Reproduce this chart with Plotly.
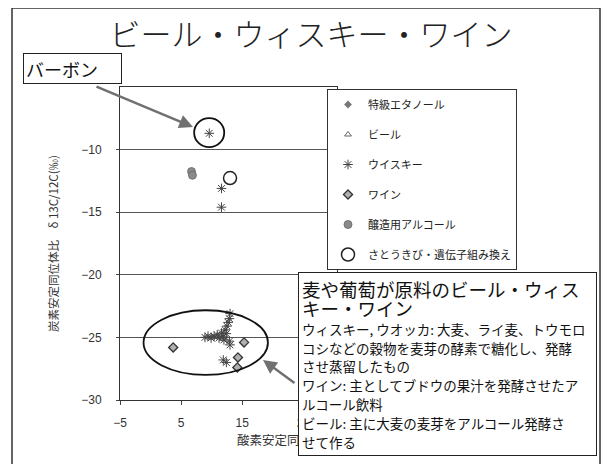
import plotly.graph_objects as go

# Werte (x: 酸素安定同位体比, y: δ13C/12C)
whisky_x = [9.6, 11.6, 11.6,
            8.9, 9.4, 9.9, 10.4, 10.9, 11.2, 11.6, 11.9, 12.2, 12.4,
            12.5, 12.7, 12.9, 13.0, 12.0, 12.9, 13.0, 11.9, 12.4]
whisky_y = [-8.7, -13.1, -14.6,
            -25.0, -24.9, -25.05, -24.9, -24.8, -25.05, -24.65, -24.9, -24.4, -24.7,
            -24.1, -23.8, -23.5, -23.1, -25.2, -25.3, -25.6, -26.8, -27.0]
wine_x = [3.7, 15.3, 14.3, 14.2]
wine_y = [-25.8, -25.4, -26.6, -27.4]
beer_x = [10.0, 11.0, 11.8]
beer_y = [-25.0, -24.9, -25.1]
# 特級エタノール: im Bild keine Punkte sichtbar, nur Legendeneintrag
ethanol_x = [None]
ethanol_y = [None]
brewing_x = [6.7, 6.85]
brewing_y = [-11.75, -12.05]
cane_x = [13.0]
cane_y = [-12.27]

y_ticks = [-30, -25, -20, -15, -10]
x_ticks = [-5, 5, 15, 25]

JP = "Noto Sans CJK JP"
OFF = 8  # Seitenrand des Browsers (body margin)

# Pixel (Referenzbild) -> Paper Umrechnung, Plotbereich x 120..337, y 87..400
def px(x):
    return (x - 120) / 217

def py(y):
    return (400 - y) / 313

fig = go.Figure()

fig.add_trace(go.Scatter(x=ethanol_x, y=ethanol_y, mode="markers", name="特級エタノール",
                         legendgroup="a",
                         marker=dict(symbol="diamond", size=6, color="#777")))
fig.add_trace(go.Scatter(x=beer_x, y=beer_y, mode="markers", name="ビール",
                         legendgroup="b",
                         marker=dict(symbol="triangle-up-open", size=6, color="#666",
                                     line=dict(width=1))))
fig.add_trace(go.Scatter(x=whisky_x, y=whisky_y, mode="markers", name="ウイスキー",
                         legendgroup="c",
                         marker=dict(symbol="asterisk-open", size=8, color="#444",
                                     line=dict(width=1, color="#444"))))
fig.add_trace(go.Scatter(x=wine_x, y=wine_y, mode="markers", name="ワイン",
                         legendgroup="d",
                         marker=dict(symbol="diamond", size=7, color="#b0b0b0",
                                     line=dict(width=1.3, color="#333"))))
fig.add_trace(go.Scatter(x=brewing_x, y=brewing_y, mode="markers", name="醸造用アルコール",
                         legendgroup="e",
                         marker=dict(symbol="circle", size=8, color="#8a8a8a",
                                     line=dict(width=0.8, color="#666"))))
fig.add_trace(go.Scatter(x=cane_x, y=cane_y, mode="markers", name="さとうきび・遺伝子組み換え",
                         legendgroup="f",
                         marker=dict(symbol="circle-open", size=13, color="#222",
                                     line=dict(width=1.5))))

# Ellipse um Bier/Whisky/Wein, Kreis um Bourbon
fig.add_shape(type="circle", xref="x", yref="y", x0=-1.15, x1=19.2, y0=-22.83, y1=-28.0,
              line=dict(color="#111", width=1.8))
fig.add_shape(type="circle", xref="x", yref="y", x0=7.13, x1=12.05, y0=-7.49, y1=-9.8,
              line=dict(color="#111", width=1.8))
# Rahmen der Folie
fig.add_shape(type="rect", xref="paper", yref="paper", x0=px(12), x1=px(600), y0=py(475), y1=py(8),
              line=dict(color="#333", width=1.5))

anns = []
anns.append(dict(xref="paper", yref="paper", x=px(235), y=py(440), xanchor="left", yanchor="middle",
                 text="酸素安定同位体比　δ 18O(‰)", showarrow=False,
                 font=dict(family=JP, size=12.5, color="#333")))

box_lines = [
    '<span style="font-size:18.5px">麦や葡萄が原料のビール・ウィス</span>',
    '<span style="font-size:18.5px">キー・ワイン</span>',
    '<span style="font-size:13.5px">ウィスキー, ウオッカ: 大麦、ライ麦、トウモロ</span>',
    '<span style="font-size:13.5px">コシなどの穀物を麦芽の酵素で糖化し、発酵</span>',
    '<span style="font-size:13.5px">させ蒸留したもの</span>',
    '<span style="font-size:13.5px">ワイン: 主としてブドウの果汁を発酵させたア</span>',
    '<span style="font-size:13.5px">ルコール飲料</span>',
    '<span style="font-size:13.5px">ビール: 主に大麦の麦芽をアルコール発酵さ</span>',
    '<span style="font-size:13.5px">せて作る</span>',
]
anns.append(dict(xref="paper", yref="paper", x=px(298), y=py(272), xanchor="left", yanchor="top",
                 text="<br>".join(box_lines), showarrow=False, align="left", width=291,
                 bgcolor="white", bordercolor="#222", borderwidth=1, borderpad=3,
                 font=dict(family=JP, size=14.5, color="#111")))
anns.append(dict(xref="paper", yref="paper", x=px(23), y=py(53), xanchor="left", yanchor="top",
                 text="バーボン", showarrow=False, align="left", width=93, height=25,
                 bgcolor="white", bordercolor="#222", borderwidth=1, borderpad=2,
                 font=dict(family=JP, size=18, color="#111")))
# Pfeile
anns.append(dict(xref="paper", yref="paper", x=px(193), y=py(127), ax=-98, ay=-41, text="",
                 showarrow=True, arrowhead=2, arrowsize=1.1, arrowwidth=2.5, arrowcolor="#707070"))
anns.append(dict(xref="paper", yref="paper", x=px(263), y=py(360), ax=33, ay=24, text="",
                 showarrow=True, arrowhead=2, arrowsize=1.1, arrowwidth=2.5, arrowcolor="#707070"))

fig.update_layout(
    width=609, height=464,
    margin=dict(l=120 - OFF, r=609 - (120 - OFF) - 217, t=87 - OFF, b=464 - (87 - OFF) - 313),
    paper_bgcolor="white", plot_bgcolor="white",
    title=dict(text="ビール・ウィスキー・ワイン", xref="container", yref="container",
               x=(311 - OFF) / 609, y=1 - (35 - OFF) / 464, xanchor="center", yanchor="middle",
               font=dict(family=JP, size=31, weight=300, color="#222")),
    showlegend=True,
    legend=dict(x=px(327), y=py(89), xanchor="left", yanchor="top",
                bgcolor="white", bordercolor="#333", borderwidth=1,
                tracegroupgap=11, font=dict(family=JP, size=11, color="#222")),
    annotations=anns,
)
fig.update_xaxes(range=[-5, 30.5], tickvals=x_ticks, ticks="outside", ticklen=4,
                 showline=True, mirror=True, linecolor="#333", linewidth=1, showgrid=False,
                 zeroline=False, ticklabelstandoff=8,
                 tickfont=dict(family="Liberation Sans", size=12, color="#333"))
fig.update_yaxes(range=[-30, -5], tickvals=y_ticks, ticks="outside", ticklen=3,
                 showline=True, mirror=True, linecolor="#333", linewidth=1,
                 showgrid=True, gridcolor="#555", gridwidth=1, zeroline=False,
                 ticklabelstandoff=12,
                 tickfont=dict(family="Liberation Sans", size=12, color="#333"),
                 title=dict(text="炭素安定同位体比　δ 13C/12C(‰)", standoff=20,
                            font=dict(family=JP, size=11.5, color="#333")))

fig.write_html("out.html")
